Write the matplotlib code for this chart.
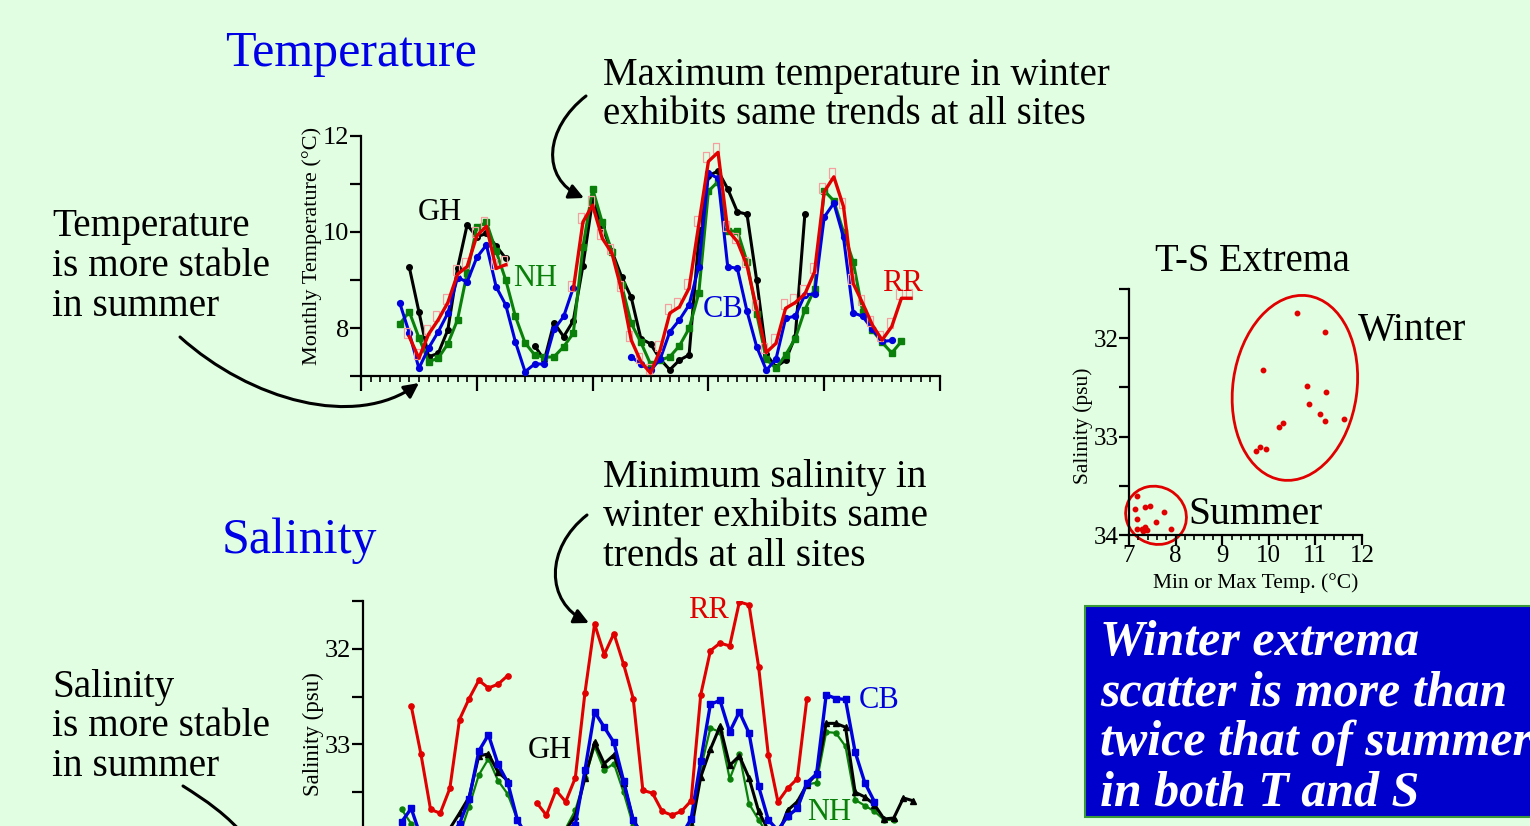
import numpy as np
import matplotlib
matplotlib.use('Agg')
import matplotlib.pyplot as plt
from matplotlib.ticker import MultipleLocator, FuncFormatter
from matplotlib.patches import Ellipse, Rectangle, FancyArrowPatch
from matplotlib.path import Path
import matplotlib.transforms as mtransforms

plt.rcParams['font.family'] = ['Liberation Serif', 'DejaVu Serif']

nan = np.nan
W, H = 1530, 826
BG = '#E2FEE2'
RED = '#E00000'
BLUE = '#0000DD'
GREEN = '#0A800A'
BLACK = '#000000'

# ---------------- data ----------------
months = np.arange(4, 58)

gh_temp = [nan, 9.27, 8.34, 7.40, 7.47, 7.96, 9.24, 10.15, 9.90, 9.97, 9.71, 9.45, nan, nan,
           7.63, 7.33, 8.11, 7.82, 8.15, 9.30, 10.67, 10.10, 9.60, 9.07, 8.64, 7.78, 7.67, 7.35,
           7.13, 7.33, 7.44, 9.85, 11.17, 11.27, 10.90, 10.42, 10.37, 9.00, 7.45, 7.19, 7.33, 7.82,
           10.38, nan, nan, nan, nan, nan, nan, nan, nan, nan, nan, nan]
nh_temp = [8.08, 8.34, 7.80, 7.30, 7.37, 7.67, 8.17, 9.15, 10.10, 10.20, 9.60, 9.00, 8.24, 7.69,
           7.44, 7.39, 7.40, 7.61, 7.89, 9.69, 10.90, 10.20, 9.59, 8.90, 8.10, 7.70, 7.25, 7.33,
           7.40, 7.63, 7.99, 8.72, 10.85, 11.05, 10.02, 10.02, 9.38, 8.30, 7.35, 7.16, 7.44, 7.78,
           8.38, 8.81, 10.86, 10.65, 10.00, 9.38, 8.33, 7.95, 7.70, 7.48, 7.72, nan]
cb_temp = [8.53, 7.90, 7.16, 7.58, 7.92, 8.31, 9.05, 8.96, 9.47, 9.73, 8.86, 8.48, 7.71, 7.09,
           7.25, 7.25, 7.97, 8.24, 8.84, nan, nan, nan, nan, nan, 7.40, 7.25, 7.12, 7.35,
           7.92, 8.17, 8.48, 9.28, 11.22, 11.12, 9.28, 9.24, 8.35, 7.61, 7.12, 7.35, 8.20, 8.25,
           8.69, 8.71, 10.31, 10.60, 9.89, 8.32, 8.24, 7.97, 7.72, 7.74, nan, nan]
rr_temp = [nan, 7.82, 7.37, 7.87, 8.17, 8.53, 9.12, 9.28, 9.92, 10.12, 9.24, 9.32, nan, nan,
           nan, nan, nan, nan, 8.80, 10.21, 10.56, 9.87, 9.56, 8.79, 7.75, 7.30, 7.06, 7.54,
           8.31, 8.44, 8.83, 10.15, 11.47, 11.66, 10.04, 9.80, 9.30, 8.40, 7.49, 7.68, 8.41, 8.53,
           8.71, 9.17, 10.84, 11.15, 10.53, 8.93, 8.51, 8.06, 7.75, 8.03, 8.62, 8.62]

gh_sal = [nan, 33.98, 34.00, 34.00, 33.98, 33.88, 33.72, 33.55, 33.12, 33.10, 33.29, 33.38, nan, nan,
          33.95, 33.97, 33.95, 33.90, 33.75, 33.35, 32.98, 33.20, 33.11, 33.40, 33.79, 33.95, 34.00, 34.00,
          34.00, 33.97, 33.90, 33.34, 33.05, 32.81, 33.22, 33.12, 33.35, 33.70, 33.90, 33.95, 33.69, 33.60,
          33.42, 33.31, 32.78, 32.78, 32.82, 33.50, 33.55, 33.63, 33.78, 33.77, 33.56, 33.59]
nh_sal = [33.68, 33.83, 33.98, 34.00, 34.00, 34.00, 33.95, 33.65, 33.32, 33.15, 33.38, 33.52, 33.79, 33.95,
          34.00, 34.00, 33.97, 33.88, 33.69, 33.35, 33.02, 33.27, 33.20, 33.50, 33.85, 33.98, 34.00, 34.00,
          34.00, 33.97, 33.85, 33.25, 32.83, 32.87, 33.36, 33.10, 33.62, 33.79, 33.95, 33.88, 33.76, 33.67,
          33.42, 33.40, 32.87, 32.88, 33.02, 33.58, 33.64, 33.70, 33.79, 33.79, nan, nan]
cb_sal = [33.81, 33.67, 33.97, 34.00, 34.00, 33.97, 33.83, 33.57, 33.07, 32.90, 33.21, 33.40, 33.79, 33.97,
          34.00, 34.00, 33.97, 33.90, 33.84, 33.27, 32.66, 32.82, 32.98, 33.38, 33.79, 33.97, 34.00, 34.00,
          34.00, 33.95, 33.78, 33.17, 32.58, 32.54, 32.87, 32.66, 32.88, 33.44, 33.79, 33.90, 33.75, 33.67,
          33.40, 33.31, 32.48, 32.52, 32.53, 33.08, 33.40, 33.60, nan, nan, nan, nan]
rr_sal = [nan, 32.60, 33.10, 33.68, 33.72, 33.46, 32.74, 32.52, 32.33, 32.41, 32.37, 32.28, nan, nan,
          33.61, 33.74, 33.48, 33.60, 33.35, 32.46, 31.74, 32.06, 31.84, 32.16, 32.52, 33.48, 33.51, 33.70,
          33.74, 33.70, 33.59, 32.48, 32.02, 31.94, 31.97, 31.51, 31.54, 32.19, 33.11, 33.60, 33.46, 33.36,
          32.52, nan, nan, nan, nan, nan, nan, nan, nan, nan, nan, nan]

winter_t = [10.60, 11.20, 9.87, 10.82, 11.23, 10.87, 11.09, 11.21, 11.62, 10.21, 10.30, 9.72, 9.81, 9.93]
winter_s = [31.74, 31.94, 32.32, 32.49, 32.55, 32.67, 32.77, 32.84, 32.82, 32.90, 32.86, 33.15, 33.11, 33.13]
summer_t = [7.18, 7.13, 7.34, 7.44, 7.75, 7.18, 7.57, 7.18, 7.28, 7.34, 7.39, 7.31, 7.90]
summer_s = [33.60, 33.74, 33.72, 33.71, 33.77, 33.84, 33.87, 33.94, 33.94, 33.92, 33.95, 33.96, 33.94]

# ---------------- figure ----------------
fig = plt.figure(figsize=(W / 100, H / 100), dpi=100, facecolor=BG)
pix = mtransforms.Affine2D().scale(1 / W, -1 / H).translate(0, 1) + fig.transFigure


def fx(x):
    return x / W


def fy(y):
    return 1 - y / H


def style_axes(ax, fs):
    ax.set_facecolor('none')
    for s in ['top', 'right']:
        ax.spines[s].set_visible(False)
    for s in ['left', 'bottom']:
        ax.spines[s].set_linewidth(1.6)
    ax.tick_params(which='major', direction='out', length=8, width=1.6, labelsize=fs, pad=0.5)
    ax.tick_params(which='minor', direction='out', length=4, width=1.2)


# Temperature axes
ax1 = fig.add_axes([fx(361), fy(376), 579 / W, 240 / H])
style_axes(ax1, 19)
ax1.set_xlim(0, 60)
ax1.set_ylim(7, 12)
ax1.xaxis.set_major_locator(MultipleLocator(12))
ax1.xaxis.set_minor_locator(MultipleLocator(1))
ax1.xaxis.set_major_formatter(FuncFormatter(lambda v, p: ''))
ax1.tick_params(axis='x', which='major', length=11)
ax1.yaxis.set_major_locator(MultipleLocator(1))
ax1.yaxis.set_major_formatter(FuncFormatter(lambda v, p: '%d' % round(v) if round(v) % 2 == 0 else ''))
ax1.set_ylabel('Monthly Temperature (°C)', fontsize=16, va='center', ha='center')
ax1.yaxis.set_label_coords((312 - 361) / 579, (376 - 246) / 240)

ax1.plot(months, gh_temp, '-o', color=BLACK, lw=2.2, ms=4, zorder=3)
ax1.plot(months, nh_temp, '-s', color=GREEN, lw=2.2, ms=4.6, zorder=4)
ax1.plot(months, cb_temp, '-o', color=BLUE, lw=2.2, ms=4.2, zorder=5)
ax1.plot(months, rr_temp, '-', color=RED, lw=2.4, zorder=6)
tofu = [(-0.3, -0.5), (0.3, -0.5), (0.3, 0.5), (-0.3, 0.5), (-0.3, -0.5)]
off = mtransforms.offset_copy(ax1.transData, fig=fig, x=-2, y=4, units='dots')
ax1.plot(months, rr_temp, linestyle='none', marker=tofu, ms=6.5, mfc='none', mec='#F4A0A0',
         mew=0.9, transform=off, zorder=5.5, clip_on=False)

# Salinity axes
ax2 = fig.add_axes([fx(363), fy(840), 579 / W, 239 / H])
style_axes(ax2, 19)
ax2.set_xlim(0, 60)
ax2.set_ylim(34, 31.5)
ax2.xaxis.set_major_locator(MultipleLocator(12))
ax2.xaxis.set_minor_locator(MultipleLocator(1))
ax2.xaxis.set_major_formatter(FuncFormatter(lambda v, p: ''))
ax2.yaxis.set_major_locator(MultipleLocator(0.5))
ax2.yaxis.set_major_formatter(FuncFormatter(lambda v, p: '%d' % round(v) if abs(v - round(v)) < 1e-6 and v < 33.9 else ''))
ax2.set_ylabel('Salinity (psu)', fontsize=16.5, va='center', ha='center')
ax2.yaxis.set_label_coords((313 - 363) / 579, (840 - 734) / 239)

ax2.plot(months, nh_sal, '-o', color=GREEN, lw=1.6, ms=3.6, zorder=3)
ax2.plot(months, gh_sal, '-^', color=BLACK, lw=2.2, ms=4.6, zorder=4)
ax2.plot(months, cb_sal, '-s', color=BLUE, lw=2.4, ms=4.8, zorder=5)
ax2.plot(months, rr_sal, '-o', color=RED, lw=2.2, ms=3.8, zorder=6)

# T-S extrema axes
ax3 = fig.add_axes([fx(1129), fy(535), 233 / W, 246 / H])
style_axes(ax3, 18)
ax3.set_xlim(7, 12)
ax3.set_ylim(34, 31.5)
ax3.xaxis.set_major_locator(MultipleLocator(1))
ax3.xaxis.set_minor_locator(MultipleLocator(0.2))
ax3.yaxis.set_major_locator(MultipleLocator(0.5))
ax3.yaxis.set_major_formatter(FuncFormatter(lambda v, p: '%d' % round(v) if abs(v - round(v)) < 1e-6 else ''))
ax3.tick_params(which='major', length=7)
ax3.tick_params(which='minor', length=3.5)
ax3.tick_params(axis='x', pad=0)
ax3.set_xlabel('Min or Max Temp. (°C)', fontsize=15.5)
ax3.xaxis.set_label_coords((1256 - 1129) / 233, -(583 - 535) / 246)
ax3.xaxis.label.set_va('center')
ax3.set_ylabel('Salinity (psu)', fontsize=15.5, va='center', ha='center')
ax3.yaxis.set_label_coords((1083 - 1129) / 233, (535 - 426) / 246)
ax3.plot(winter_t, winter_s, 'o', color=RED, ms=3.2, clip_on=False)
ax3.plot(summer_t, summer_s, 'o', color=RED, ms=3.2, clip_on=False)

for (cx, cy), (w, h, a) in [((10.56, 32.505), (1.24, 1.86, -8)), ((7.58, 33.80), (0.62, 0.57, -30))]:
    tr = fig.dpi_scale_trans + mtransforms.ScaledTranslation(cx, cy, ax3.transData)
    ax3.add_patch(Ellipse((0, 0), w, h, angle=a, transform=tr, fill=False, ec=RED, lw=2, clip_on=False))

# ---------------- texts ----------------
def t(x, y, s, fs, color=BLACK, **kw):
    fig.text(fx(x), fy(y), s, fontsize=fs, color=color, ha='left', va='baseline', **kw)


t(225, 66, 'Temperature', 36, '#0000E6')
t(222, 553, 'Salinity', 36, '#0000E6')
for i, s in enumerate(['Maximum temperature in winter', 'exhibits same trends at all sites']):
    t(603, 85 + 39 * i, s, 28)
for i, s in enumerate(['Temperature', 'is more stable', 'in summer']):
    t(52, 236 + 40 * i, s, 28.3)
for i, s in enumerate(['Minimum salinity in', 'winter exhibits same', 'trends at all sites']):
    t(603, 487 + 39.5 * i, s, 28.3)
for i, s in enumerate(['Salinity', 'is more stable', 'in summer']):
    t(52, 697 + 39.5 * i, s, 28.3)
t(1155, 271, 'T-S Extrema', 27.8)
t(1358, 340, 'Winter', 28.5)
t(1188, 524, 'Summer', 28.5)

t(418, 220, 'GH', 22)
t(513, 286, 'NH', 22, GREEN)
t(703, 317, 'CB', 22, BLUE)
t(882, 291, 'RR', 22, RED)
t(688, 618, 'RR', 22, RED)
t(528, 758, 'GH', 22)
t(859, 708, 'CB', 22, BLUE)
t(807, 820, 'NH', 22, GREEN)

# blue box
fig.patches.append(Rectangle((1085, 606), 470, 211, transform=pix, fc='#0000CC', ec='#3A9A3A', lw=1.5))
for i, s in enumerate(['Winter extrema', 'scatter is more than', 'twice that of summer', 'in both T and S']):
    t(1100, 655 + 50 * i, s, 36, 'white', fontweight='bold', fontstyle='italic')

# arrows
C = Path.CURVE4
arrows = [
    ([(586, 96), (545, 128), (540, 178), (584, 198)], '-|>'),
    ([(180, 337), (250, 400), (355, 430), (419, 383)], '-|>'),
    ([(587, 515), (545, 548), (545, 602), (589, 623)], '-|>'),
    ([(183, 786), (205, 800), (228, 815), (248, 840)], '-'),
]
for verts, st in arrows:
    p = Path(verts, [Path.MOVETO, C, C, C])
    fig.patches.append(FancyArrowPatch(path=p, arrowstyle=st, mutation_scale=22, lw=2.2,
                                       color='black', transform=pix))

fig.savefig('out.png', dpi=100, facecolor=BG)
